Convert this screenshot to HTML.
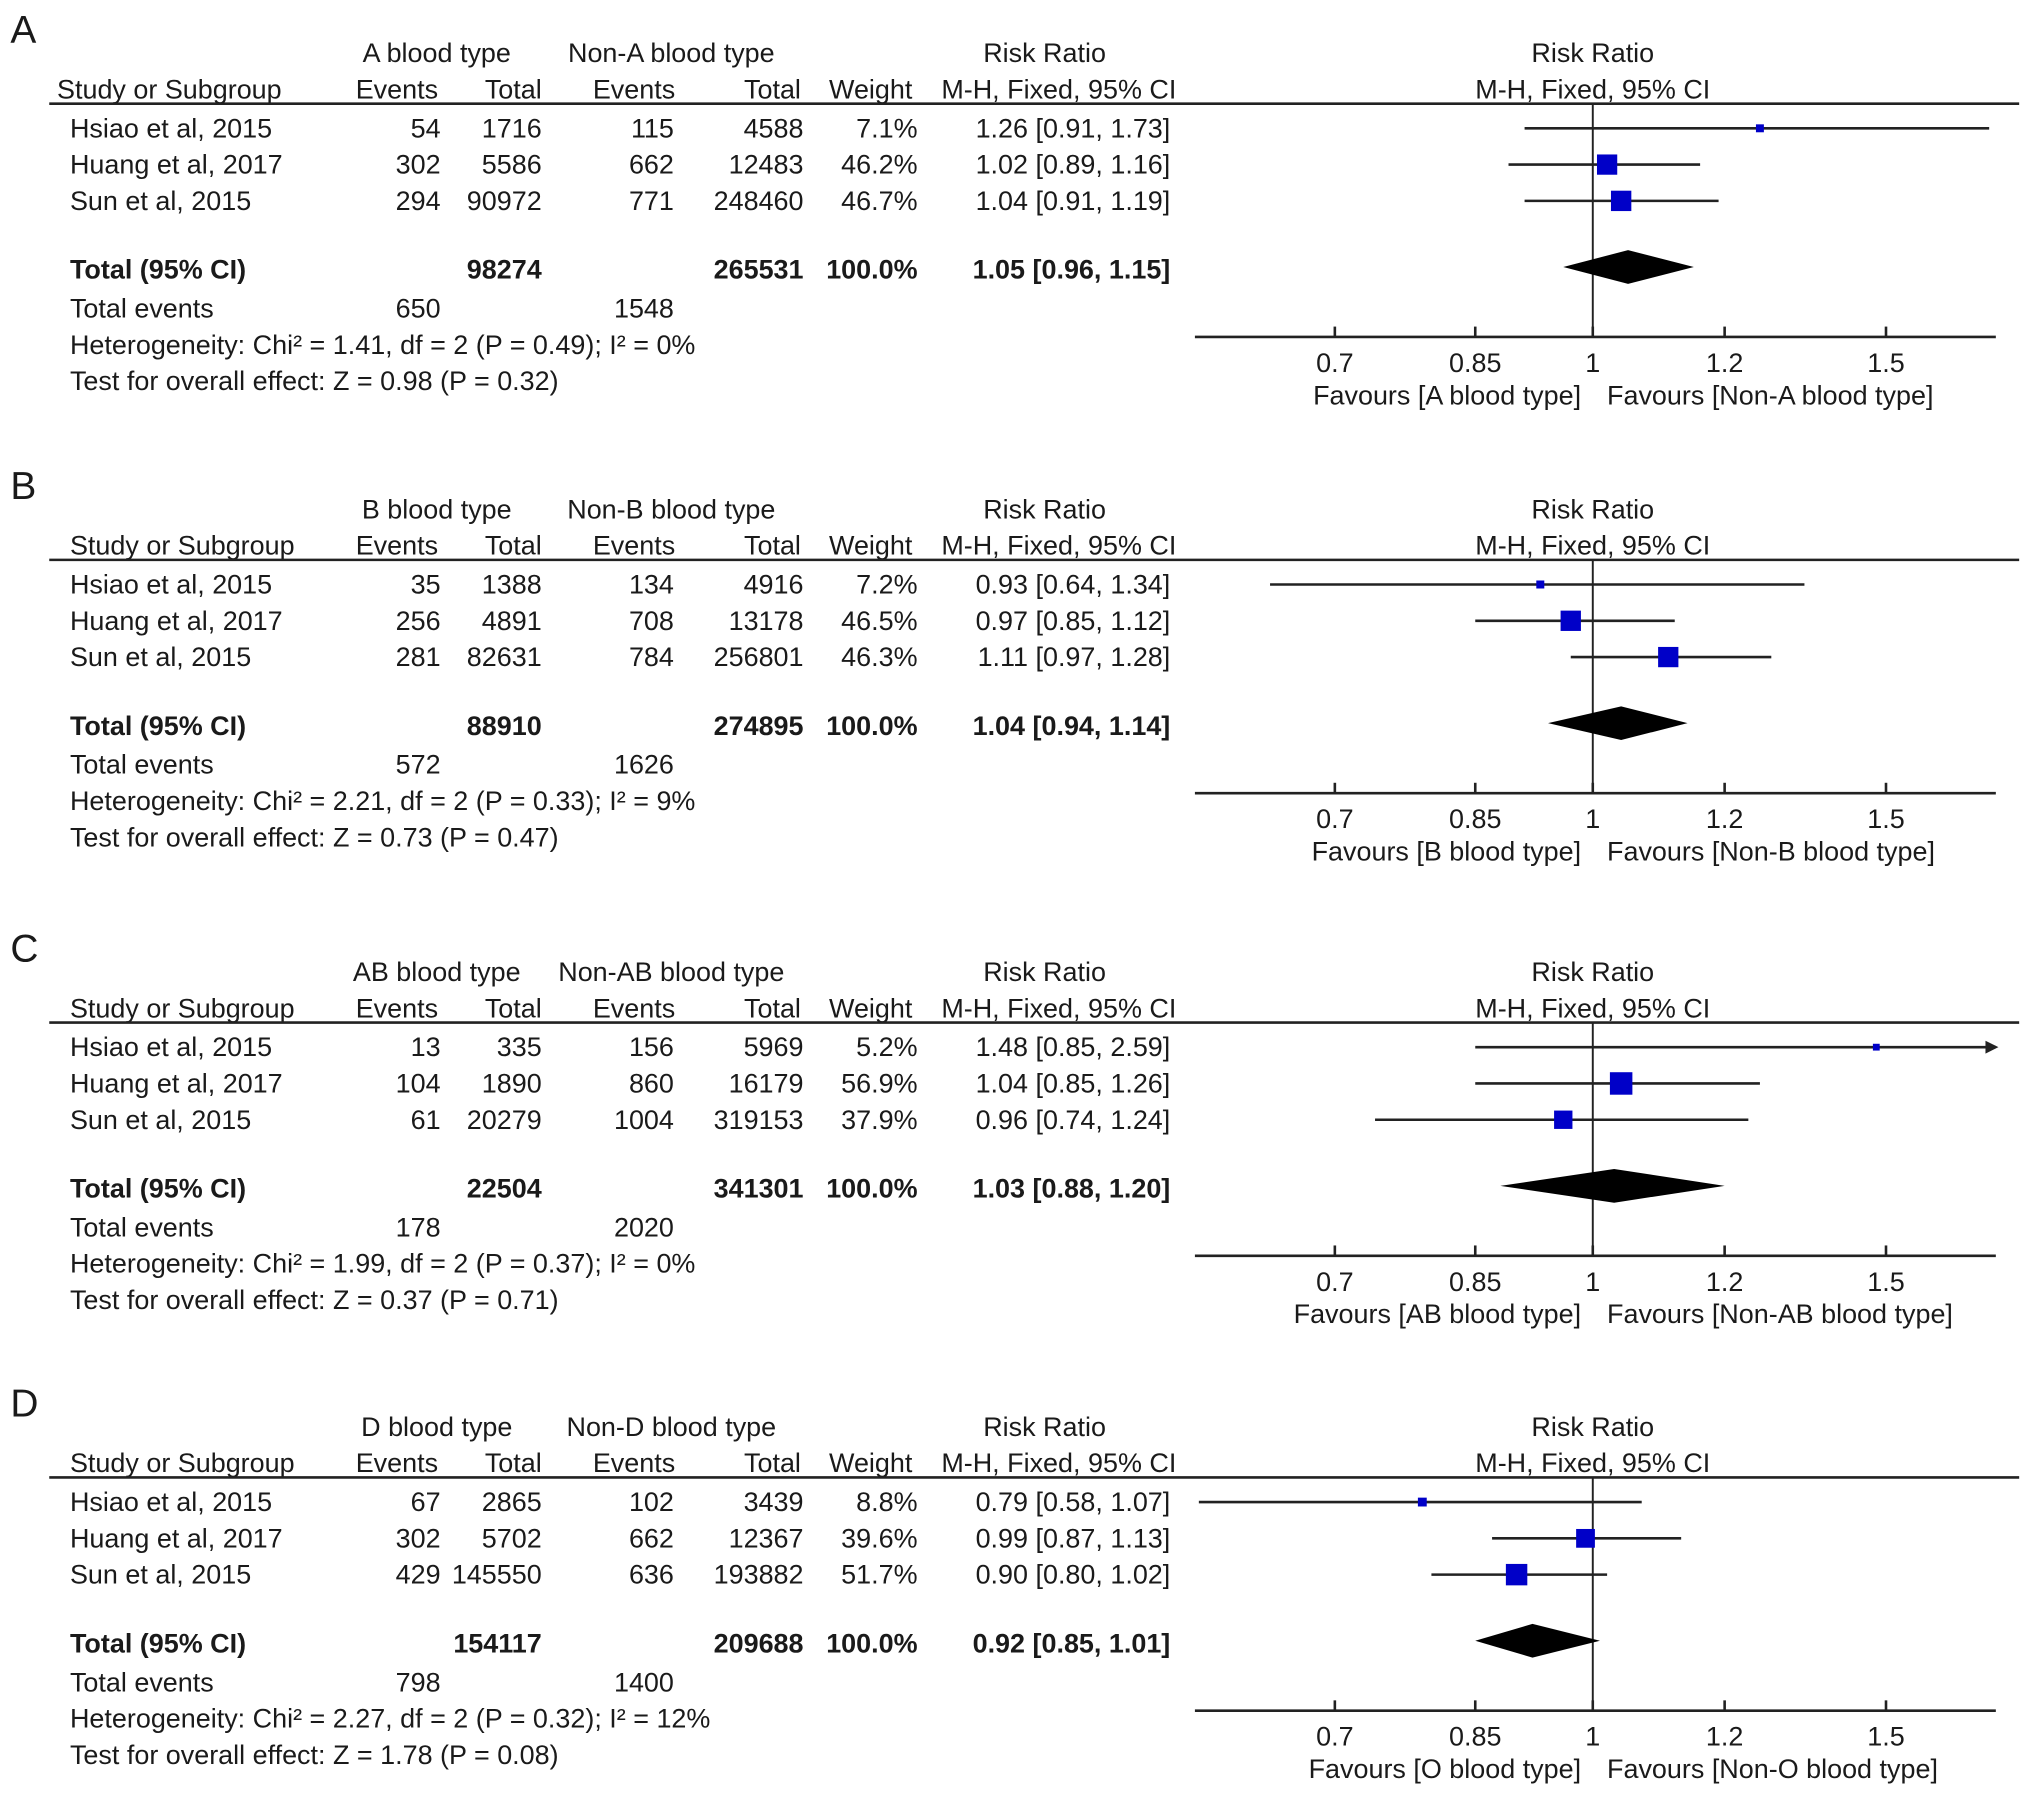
<!DOCTYPE html>
<html><head><meta charset="utf-8"><style>
html,body{margin:0;padding:0;background:#fff;}
svg{display:block;}
text{font-family:"Liberation Sans",Arial,sans-serif;fill:#1a1a1a;}
</style></head><body>
<svg id="fig" width="2032" height="1801" viewBox="0 0 2032 1801" xmlns="http://www.w3.org/2000/svg">
<g id="root" transform="scale(1.296)"></g>
</svg>
<script>
const panelLetters = ["A","B","C","D"];
const panelOffsets = [0, 352, 709, 1060];
const groupNames = ["A blood type","B blood type","AB blood type","D blood type"];
const otherNames = ["Non-A blood type","Non-B blood type","Non-AB blood type","Non-D blood type"];
const favLeft = ["Favours [A blood type]","Favours [B blood type]","Favours [AB blood type]","Favours [O blood type]"];
const favRight = ["Favours [Non-A blood type]","Favours [Non-B blood type]","Favours [Non-AB blood type]","Favours [Non-O blood type]"];
const studies = ["Hsiao et al, 2015","Huang et al, 2017","Sun et al, 2015"];
const ev1 = [[54,302,294],[35,256,281],[13,104,61],[67,302,429]];
const tot1 = [[1716,5586,90972],[1388,4891,82631],[335,1890,20279],[2865,5702,145550]];
const ev2 = [[115,662,771],[134,708,784],[156,860,1004],[102,662,636]];
const tot2 = [[4588,12483,248460],[4916,13178,256801],[5969,16179,319153],[3439,12367,193882]];
const weights = [[7.1,46.2,46.7],[7.2,46.5,46.3],[5.2,56.9,37.9],[8.8,39.6,51.7]];
const rr = [[1.26,1.02,1.04],[0.93,0.97,1.11],[1.48,1.04,0.96],[0.79,0.99,0.90]];
const lo = [[0.91,0.89,0.91],[0.64,0.85,0.97],[0.85,0.85,0.74],[0.58,0.87,0.80]];
const hi = [[1.73,1.16,1.19],[1.34,1.12,1.28],[2.59,1.26,1.24],[1.07,1.13,1.02]];
const totalN1 = [98274,88910,22504,154117];
const totalN2 = [265531,274895,341301,209688];
const totalRR = [1.05,1.04,1.03,0.92];
const totalLo = [0.96,0.94,0.88,0.85];
const totalHi = [1.15,1.14,1.20,1.01];
const totEv1 = [650,572,178,798];
const totEv2 = [1548,1626,2020,1400];
const chi2 = ["1.41","2.21","1.99","2.27"];
const chiP = ["0.49","0.33","0.37","0.32"];
const i2 = ["0%","9%","0%","12%"];
const zval = ["0.98","0.73","0.37","1.78"];
const zP = ["0.32","0.47","0.71","0.08"];
const tickValues = [0.7,0.85,1,1.2,1.5];
const tickLabels = ["0.7","0.85","1","1.2","1.5"];

const NS="http://www.w3.org/2000/svg";
const root=document.getElementById('root');
const X0=1229, PX=558, AXL=922, AXR=1540;
const FS=20.8;
function xs(v){return X0+PX*Math.log(v);}
function mk(tag,attrs,parent){const e=document.createElementNS(NS,tag);for(const k in attrs)e.setAttribute(k,attrs[k]);parent.appendChild(e);return e;}
function txt(parent,x,y,s,anchor,bold,size){const t=mk('text',{x:x,y:y,'font-size':size||FS,'text-anchor':anchor||'start'},parent);if(bold)t.setAttribute('font-weight','bold');t.textContent=s;return t;}
const f2=v=>v.toFixed(2);

for(let p=0;p<4;p++){
  const g=mk('g',{transform:'translate(0,'+panelOffsets[p]+')'},root);
  
  
  let t=txt(g,8,33,panelLetters[p],'start',false,30);
  
  
  t=txt(g,337,48,groupNames[p],'middle');
  
  
  t=txt(g,518,48,otherNames[p],'middle');
  
  
  t=txt(g,806,48,'Risk Ratio','middle');
  
  
  t=txt(g,1229,48,'Risk Ratio','middle');
  
  
  const hdr=[[p==0?44:54,'Study or Subgroup','start'],[338,'Events','end'],[418,'Total','end'],[521,'Events','end'],[618,'Total','end'],[704,'Weight','end'],[817,'M-H, Fixed, 95% CI','middle'],[1229,'M-H, Fixed, 95% CI','middle']];
  hdr.forEach(h=>{const e=txt(g,h[0],76,h[1],h[2]);
    
    });
  let l=mk('line',{x1:38,y1:80,x2:1558,y2:80,stroke:'#222','stroke-width':2},g);
  
  
  l=mk('line',{x1:xs(1),y1:80,x2:xs(1),y2:260,stroke:'#222','stroke-width':1.5},g);
  
  
  for(let i=0;i<3;i++){
    const y=106+28*i, cy=99+28*i;
    const row=[[54,studies[i],'start'],[340,ev1[p][i],'end'],[418,tot1[p][i],'end'],[520,ev2[p][i],'end'],[620,tot2[p][i],'end'],[708,weights[p][i].toFixed(1)+'%','end'],[903,f2(rr[p][i])+' ['+f2(lo[p][i])+', '+f2(hi[p][i])+']','end']];
    row.forEach(r=>{const e=txt(g,r[0],y,String(r[1]),r[2]);
      
      });
    const x1=Math.max(AXL,xs(lo[p][i])), x2=Math.min(AXR,xs(hi[p][i]));
    l=mk('line',{x1:x1,y1:cy,x2:x2,y2:cy,stroke:'#222','stroke-width':2},g);
    
    
    if(xs(hi[p][i])>AXR){
      const a=mk('polygon',{points:(AXR+2)+','+cy+' '+(AXR-8)+','+(cy-5)+' '+(AXR-8)+','+(cy+5),fill:'#222'},g);
      
      
    }
    const s=2.3*Math.sqrt(weights[p][i]);
    const r=mk('rect',{x:xs(rr[p][i])-s/2,y:cy-s/2,width:s,height:s,fill:'#0000c8'},g);
    
    
  }
  const trow=[[54,'Total (95% CI)','start'],[418,totalN1[p],'end'],[620,totalN2[p],'end'],[708,'100.0%','end'],[903,f2(totalRR[p])+' ['+f2(totalLo[p])+', '+f2(totalHi[p])+']','end']];
  trow.forEach(r=>{const e=txt(g,r[0],215,String(r[1]),r[2],true);
    
    });
  const dy=206;
  const d=mk('polygon',{points:xs(totalLo[p])+','+dy+' '+xs(totalRR[p])+','+(dy-13)+' '+xs(totalHi[p])+','+dy+' '+xs(totalRR[p])+','+(dy+13),fill:'#000'},g);
  
  
  t=txt(g,54,245,'Total events');
  
  
  t=txt(g,340,245,String(totEv1[p]),'end');
  
  
  t=txt(g,520,245,String(totEv2[p]),'end');
  
  
  t=txt(g,54,273,'Heterogeneity: Chi\u00b2 = '+chi2[p]+', df = 2 (P = '+chiP[p]+'); I\u00b2 = '+i2[p]);
  
  
  t=txt(g,54,301,'Test for overall effect: Z = '+zval[p]+' (P = '+zP[p]+')');
  
  
  l=mk('line',{x1:AXL,y1:260,x2:AXR,y2:260,stroke:'#222','stroke-width':2},g);
  
  
  tickValues.forEach((v,k)=>{
    const tk=mk('line',{x1:xs(v),y1:252,x2:xs(v),y2:260,stroke:'#222','stroke-width':2},g);
    
    
    const tl=txt(g,xs(v),287,tickLabels[k],'middle');
    
    
  });
  t=txt(g,1220,312,favLeft[p],'end');
  
  
  t=txt(g,1240,312,favRight[p],'start');
  
  
}
</script>
</body></html>
